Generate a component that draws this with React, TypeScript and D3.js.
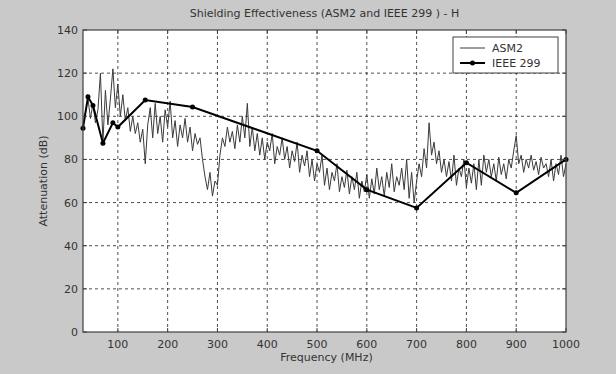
import React from "react";
import * as d3 from "d3";

const W = 616;
const H = 374;

const freqStart = 30;
const freqStep = 5;
// ASM2 measured attenuation (dB), one value per 5 MHz from 30 MHz
const asm2Values = [
  95, 102, 108, 99, 106, 97, 103,
  120, 88, 112, 96, 108,
  122, 104, 115, 100, 110,
  98, 104, 93, 100, 92,
  97, 88, 94, 78, 96,
  104, 90, 106, 92, 100,
  88, 103, 95, 107, 90,
  98, 86, 96, 90, 99,
  88, 95, 84, 92, 87,
  90, 80, 72, 66, 74,
  63, 70, 68, 82, 90,
  86, 95, 88, 93, 85,
  96, 88, 100, 90, 106,
  86, 95, 84, 92, 82,
  90, 80, 88, 84, 92,
  78, 86, 82, 90, 80,
  86, 76, 84, 79, 88,
  74, 82, 77, 84, 72,
  80, 70, 78, 74, 82,
  68, 76, 66, 74, 70,
  78, 65, 72, 67, 75,
  64, 72, 66, 74, 62,
  70, 65, 73, 62, 71,
  64, 76, 66, 72, 63,
  74, 67, 78, 65, 72,
  68, 76, 66, 80, 62,
  74, 60, 70, 78, 72,
  85, 76, 97, 82, 88,
  78, 84, 74, 80, 72,
  79, 70, 82, 68, 76,
  72, 80, 67, 76, 69,
  78, 66, 80, 68, 82,
  74, 80, 72, 78, 70,
  81, 73, 78, 71, 80,
  76, 84, 91, 78, 82,
  74, 80, 76, 82, 75,
  79, 73, 81, 76, 78,
  72, 80, 70, 78, 73,
  82, 72, 78,
];

const ieeeFreq = [30, 40, 50, 70, 90, 100, 155, 250, 500, 600, 700, 800, 900, 1000];
const ieeeValues = [94.5, 109, 105, 87.5, 97, 95, 107.5, 104.3, 84, 66, 57.5, 78.5, 64.5, 80];

const xTicks = [100, 200, 300, 400, 500, 600, 700, 800, 900, 1000];
const yTicks = [0, 20, 40, 60, 80, 100, 120, 140];

const titleText = "Shielding Effectiveness (ASM2 and IEEE 299 ) - H";
const xLabel = "Frequency (MHz)";
const yLabel = "Attenuation (dB)";
const legendLabels = ["ASM2", "IEEE 299"];

export default function App() {
  const left = 83, right = 566, top = 30, bottom = 332;
  const x = d3.scaleLinear().domain([30, 1000]).range([left, right]);
  const y = d3.scaleLinear().domain([0, 140]).range([bottom, top]);

  const asm2 = asm2Values.map((v, i) => [freqStart + i * freqStep, v] as [number, number]);
  const ieee = ieeeFreq.map((f, i) => [f, ieeeValues[i]] as [number, number]);
  const line = d3.line<[number, number]>().x(d => x(d[0])).y(d => y(d[1]));

  const font = "'DejaVu Sans', sans-serif";
  const textColor = "#333";
  const lx = 453, ly = 37, lw = 105, lh = 36;

  return (
    <svg width={W} height={H} style={{ position: "absolute", left: 0, top: 0 }} fontFamily={font}>
      <rect x={0} y={0} width={W} height={H} fill="#c9c9c9" />
      <rect x={left} y={top} width={right - left} height={bottom - top} fill="#ffffff" />
      {/* grid */}
      {xTicks.filter(t => t < 1000).map(t => (
        <line key={"gx" + t} x1={x(t)} x2={x(t)} y1={top} y2={bottom} stroke="#222" strokeWidth={0.8} strokeDasharray="3,3" />
      ))}
      {yTicks.filter(t => t > 0 && t < 140).map(t => (
        <line key={"gy" + t} x1={left} x2={right} y1={y(t)} y2={y(t)} stroke="#222" strokeWidth={0.8} strokeDasharray="3,3" />
      ))}
      {/* data */}
      <path d={line(asm2) || ""} fill="none" stroke="#3a3a3a" strokeWidth={1} />
      <path d={line(ieee) || ""} fill="none" stroke="#000" strokeWidth={2} />
      {ieee.map((d, i) => (
        <circle key={"m" + i} cx={x(d[0])} cy={y(d[1])} r={2.5} fill="#000" />
      ))}
      {/* frame */}
      <rect x={left} y={top} width={right - left} height={bottom - top} fill="none" stroke="#404040" strokeWidth={1.2} />
      {/* ticks */}
      {xTicks.map(t => (
        <g key={"tx" + t}>
          <line x1={x(t)} x2={x(t)} y1={bottom} y2={bottom - 4} stroke="#404040" />
          <line x1={x(t)} x2={x(t)} y1={top} y2={top + 4} stroke="#404040" />
          <text x={x(t)} y={bottom + 16} textAnchor="middle" fontSize={11} fill={textColor}>{t}</text>
        </g>
      ))}
      {yTicks.map(t => (
        <g key={"ty" + t}>
          <line x1={left} x2={left + 4} y1={y(t)} y2={y(t)} stroke="#404040" />
          <line x1={right} x2={right - 4} y1={y(t)} y2={y(t)} stroke="#404040" />
          <text x={left - 5} y={y(t) + 4} textAnchor="end" fontSize={11} fill={textColor}>{t}</text>
        </g>
      ))}
      {/* labels */}
      <text x={(left + right) / 2} y={17} textAnchor="middle" fontSize={11} fill={textColor}>{titleText}</text>
      <text x={(left + right) / 2 + 2} y={361} textAnchor="middle" fontSize={11} fill={textColor}>{xLabel}</text>
      <text transform={`translate(47,${(top + bottom) / 2}) rotate(-90)`} textAnchor="middle" fontSize={11} fill={textColor}>{yLabel}</text>
      {/* legend */}
      <rect x={lx} y={ly} width={lw} height={lh} fill="#fff" stroke="#404040" strokeWidth={1} />
      <line x1={lx + 7} x2={lx + 32} y1={ly + 11} y2={ly + 11} stroke="#3a3a3a" strokeWidth={1} />
      <text x={lx + 39} y={ly + 15} fontSize={11} fill={textColor}>{legendLabels[0]}</text>
      <line x1={lx + 7} x2={lx + 32} y1={ly + 26} y2={ly + 26} stroke="#000" strokeWidth={2} />
      <circle cx={lx + 19.5} cy={ly + 26} r={2.5} fill="#000" />
      <text x={lx + 39} y={ly + 30} fontSize={11} fill={textColor}>{legendLabels[1]}</text>
    </svg>
  );
}
